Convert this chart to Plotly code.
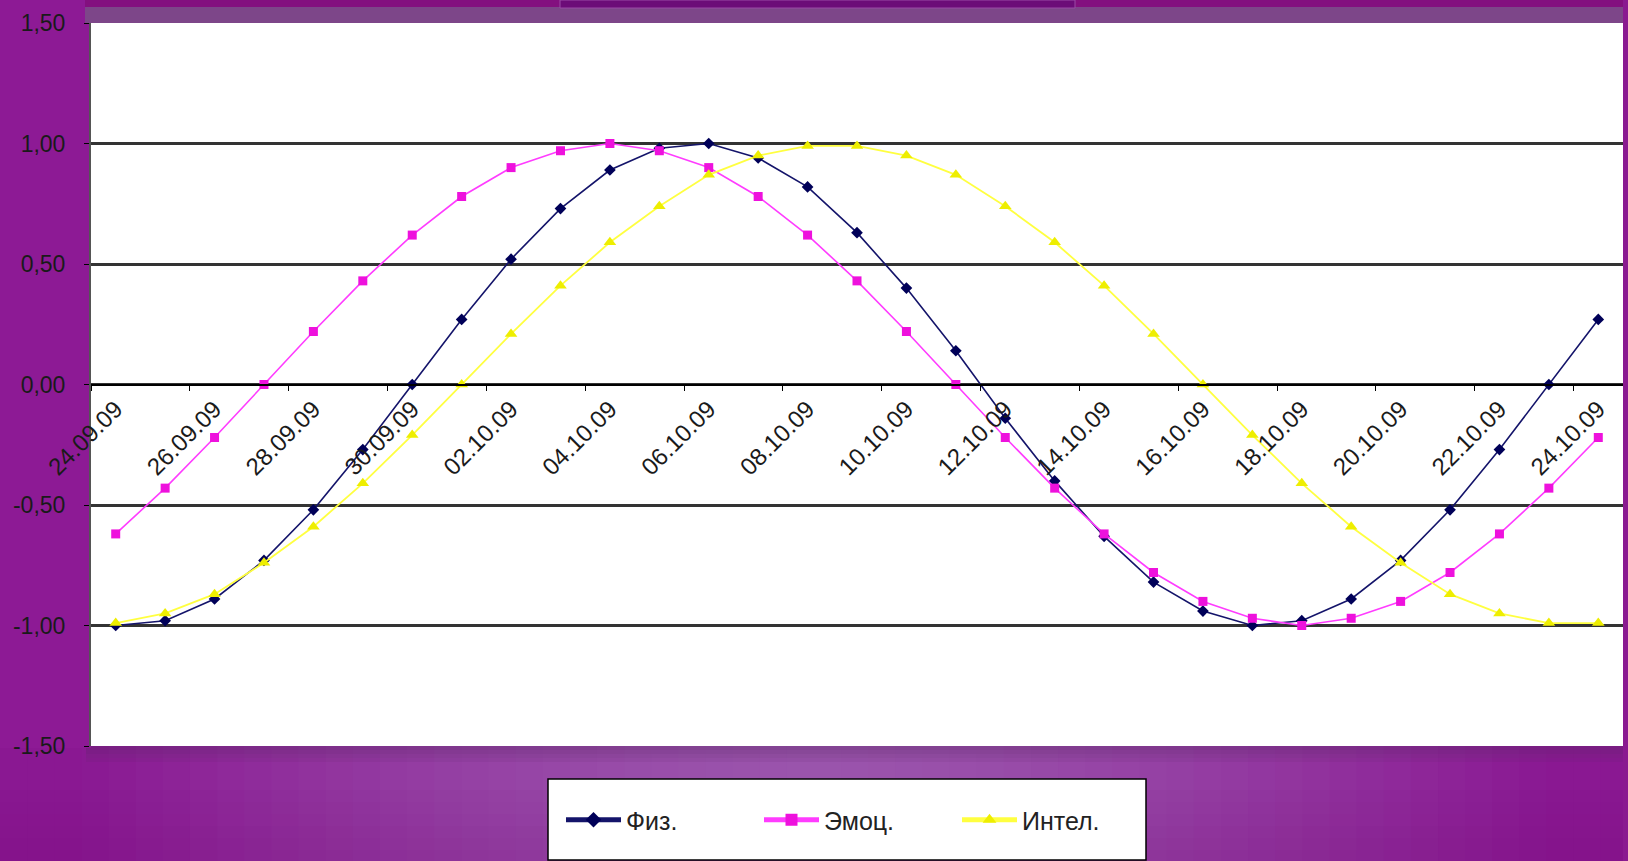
import plotly.graph_objects as go

# ---------------- data ----------------
dates = ["24.09.09", "25.09.09", "26.09.09", "27.09.09", "28.09.09", "29.09.09", "30.09.09",
         "01.10.09", "02.10.09", "03.10.09", "04.10.09", "05.10.09", "06.10.09", "07.10.09",
         "08.10.09", "09.10.09", "10.10.09", "11.10.09", "12.10.09", "13.10.09", "14.10.09",
         "15.10.09", "16.10.09", "17.10.09", "18.10.09", "19.10.09", "20.10.09", "21.10.09",
         "22.10.09", "23.10.09", "24.10.09"]

phys = [-1.00, -0.98, -0.89, -0.73, -0.52, -0.27, 0.00, 0.27, 0.52, 0.73, 0.89, 0.98, 1.00,
        0.94, 0.82, 0.63, 0.40, 0.14, -0.14, -0.40, -0.63, -0.82, -0.94, -1.00, -0.98, -0.89,
        -0.73, -0.52, -0.27, 0.00, 0.27]

emo = [-0.62, -0.43, -0.22, 0.00, 0.22, 0.43, 0.62, 0.78, 0.90, 0.97, 1.00, 0.97, 0.90, 0.78,
       0.62, 0.43, 0.22, 0.00, -0.22, -0.43, -0.62, -0.78, -0.90, -0.97, -1.00, -0.97, -0.90,
       -0.78, -0.62, -0.43, -0.22]

intel = [-0.99, -0.95, -0.87, -0.74, -0.59, -0.41, -0.21, 0.00, 0.21, 0.41, 0.59, 0.74, 0.87,
         0.95, 0.99, 0.99, 0.95, 0.87, 0.74, 0.59, 0.41, 0.21, 0.00, -0.21, -0.41, -0.59, -0.74,
         -0.87, -0.95, -0.99, -0.99]

series_names = ["Физ.", "Эмоц.", "Интел."]

y_tickvals = [-1.5, -1.0, -0.5, 0.0, 0.5, 1.0, 1.5]
y_ticktext = ["-1,50", "-1,00", "-0,50", "0,00", "0,50", "1,00", "1,50"]

# ---------------- layout geometry ----------------
W, H = 1628, 861
ML, MR, MT, MB = 91, 5, 23, 115
PW = W - ML - MR
PH = H - MT - MB


def px_x(p):
    return (p - ML) / PW


def px_y(p):
    return (H - MB - p) / PH


def lerp(c1, c2, t):
    return "rgb(%d,%d,%d)" % tuple(round(a + (b - a) * t) for a, b in zip(c1, c2))


fig = go.Figure()

fig.add_trace(go.Scatter(
    x=dates, y=phys, name=series_names[0], mode="lines+markers",
    line=dict(color="#14146a", width=1.6),
    marker=dict(symbol="diamond", size=9, color="#000058"),
))
fig.add_trace(go.Scatter(
    x=dates, y=emo, name=series_names[1], mode="lines+markers",
    line=dict(color="#ff3cff", width=1.6),
    marker=dict(symbol="square", size=9, color="#ee11dd"),
))
fig.add_trace(go.Scatter(
    x=dates, y=intel, name=series_names[2], mode="lines+markers",
    line=dict(color="#ffff40", width=1.8),
    marker=dict(symbol="triangle-up", size=11, color="#eeee00"),
))

# ---------------- background gradient (decorative) ----------------
shapes = []
edge = (138, 24, 146)
mid = (154, 84, 172)
ncol = 60
for i in range(ncol):
    t0 = i / ncol
    t1 = (i + 1) / ncol
    c = (t0 + t1) / 2
    d = min(1.0, abs(c - 0.5) / 0.45)
    col = lerp(mid, edge, d ** 1.5)
    shapes.append(dict(type="rect", xref="paper", yref="paper",
                       x0=px_x(t0 * W), x1=px_x(t1 * W) + 0.001, y0=px_y(H), y1=px_y(MT + PH),
                       line=dict(width=0), fillcolor=col, layer="below"))
for j in range(4):
    p0 = MT + PH + j * 4
    shapes.append(dict(type="rect", xref="paper", yref="paper",
                       x0=px_x(ML - 5), x1=px_x(W), y0=px_y(p0 + 4), y1=px_y(p0),
                       line=dict(width=0), fillcolor="rgba(90,40,100,%.3f)" % (0.35 - 0.08 * j),
                       layer="below"))
for j in range(6):
    p0 = 790 + j * 12
    shapes.append(dict(type="rect", xref="paper", yref="paper",
                       x0=px_x(0), x1=px_x(W), y0=px_y(p0 + 12), y1=px_y(p0),
                       line=dict(width=0), fillcolor="rgba(110,0,110,%.3f)" % (0.03 * (j + 1)),
                       layer="below"))
# left margin
shapes.append(dict(type="rect", xref="paper", yref="paper",
                   x0=px_x(0), x1=px_x(ML), y0=px_y(MT + PH + 2), y1=px_y(0),
                   line=dict(width=0), fillcolor="#8d1a95", layer="below"))
# top band
shapes.append(dict(type="rect", xref="paper", yref="paper",
                   x0=px_x(ML - 6), x1=px_x(W), y0=px_y(MT), y1=px_y(7),
                   line=dict(width=0), fillcolor="#7d4689", layer="below"))
shapes.append(dict(type="rect", xref="paper", yref="paper",
                   x0=px_x(ML - 6), x1=px_x(W), y0=px_y(7), y1=px_y(0),
                   line=dict(width=0), fillcolor="#83107f", layer="below"))
# title box remnant at top
shapes.append(dict(type="rect", xref="paper", yref="paper",
                   x0=px_x(560), x1=px_x(1075), y0=px_y(8), y1=px_y(0),
                   line=dict(width=1, color="#9a4aa6"), fillcolor="#6c0c78", layer="below"))
# right edge strip
shapes.append(dict(type="rect", xref="paper", yref="paper",
                   x0=px_x(W - MR), x1=px_x(W), y0=px_y(H), y1=px_y(0),
                   line=dict(width=0), fillcolor="#8a1a90", layer="below"))
# legend frame
shapes.append(dict(type="rect", xref="paper", yref="paper",
                   x0=px_x(548), x1=px_x(1146), y0=px_y(860), y1=px_y(779),
                   line=dict(width=1.5, color="#000000"), fillcolor="#ffffff", layer="below"))

fig.update_layout(
    width=W, height=H,
    margin=dict(l=ML, r=MR, t=MT, b=MB, autoexpand=False),
    paper_bgcolor="#8e2696",
    plot_bgcolor="#ffffff",
    font=dict(family="Liberation Sans, Arial, sans-serif", color="#1a1a1a"),
    shapes=shapes,
    showlegend=True,
    legend=dict(
        orientation="h",
        x=px_x(858), xanchor="center",
        y=px_y(820), yanchor="middle",
        bgcolor="rgba(0,0,0,0)", borderwidth=0,
        font=dict(size=25, color="#222222"),
        itemwidth=55,
        entrywidth=128, entrywidthmode="pixels",
        itemsizing="constant",
    ),
)

fig.update_xaxes(
    type="category",
    anchor="free", position=0.5,
    automargin=False,
    showline=True, linecolor="#000000", linewidth=2,
    showgrid=False, zeroline=False,
    ticks="outside", ticklen=5, tickcolor="#000000", tickwidth=1,
    tickson="boundaries", tick0=0, dtick=2,
    tickangle=-45,
    tickfont=dict(size=24, color="#1a1a1a"),
    range=[-0.5, len(dates) - 0.5],
)

fig.update_yaxes(
    range=[-1.5, 1.5],
    automargin=False,
    tickvals=y_tickvals, ticktext=y_ticktext,
    showgrid=True, gridcolor="#333333", gridwidth=2.5,
    zeroline=False,
    showline=True, linecolor="#555555", linewidth=2,
    ticks="outside", ticklen=5, tickcolor="#000000",
    ticklabelstandoff=14,
    tickfont=dict(size=23, color="#1a1a1a"),
)

fig.write_html(
    "out.html",
    config={"displayModeBar": False},
    post_script="document.body.style.margin='0';document.body.style.overflow='hidden';",
)
